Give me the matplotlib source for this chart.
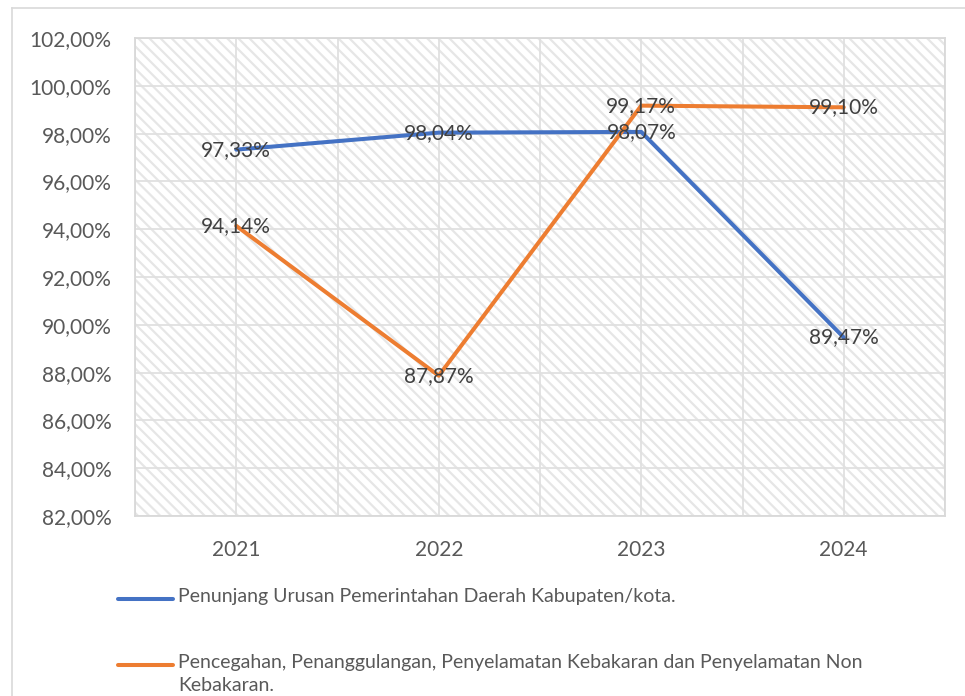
import matplotlib
matplotlib.use("Agg")
import matplotlib.pyplot as plt
from matplotlib.lines import Line2D
from matplotlib.patches import Rectangle
from matplotlib.ticker import FuncFormatter, MultipleLocator

plt.rcParams['font.family'] = ['Lato', 'DejaVu Sans']
plt.rcParams['hatch.color'] = '#e6e6e6'
plt.rcParams['hatch.linewidth'] = 1.6

years = ['2021', '2022', '2023', '2024']
penunjang = [97.33, 98.04, 98.07, 89.47]
pencegahan = [94.14, 87.87, 99.17, 99.10]
series_names = [
    'Penunjang Urusan Pemerintahan Daerah Kabupaten/kota.',
    'Pencegahan, Penanggulangan, Penyelamatan Kebakaran dan Penyelamatan Non\nKebakaran.',
]
colors = ['#4472C4', '#ED7D31']

W, H = 965, 696
fig = plt.figure(figsize=(W / 100, H / 100), dpi=100)
ax = fig.add_axes([135 / W, 1 - 516 / H, (945 - 135) / W, (516 - 38) / H])

x = list(range(len(years)))
ax.set_xlim(-0.5, len(years) - 0.5)
ax.set_ylim(82, 102)

# hatched background
ax.add_patch(Rectangle((0, 0), 1, 1, transform=ax.transAxes, facecolor='white',
                       hatch='\\\\\\', edgecolor='#e6e6e6', linewidth=0, zorder=0))

ax.yaxis.set_major_locator(MultipleLocator(2))
ax.yaxis.set_major_formatter(FuncFormatter(lambda v, p: f"{v:.2f}".replace('.', ',') + '%'))
ax.set_xticks(x)
ax.set_xticklabels(years)
ax.set_xticks([i - 0.5 for i in range(len(years) + 1)], minor=True)
ax.grid(True, which='major', axis='both', color='#e0e0e0', linewidth=1.3, zorder=1)
ax.grid(True, which='minor', axis='x', color='#e0e0e0', linewidth=1.3, zorder=1)
ax.set_axisbelow(True)
ax.tick_params(axis='both', which='both', length=0, labelsize=15, colors='#595959')
ax.tick_params(axis='x', pad=17)
ax.tick_params(axis='y', pad=17)
for s in ax.spines.values():
    s.set_color('#d9d9d9')
    s.set_linewidth(1.3)

for vals, c in zip([penunjang, pencegahan], colors):
    ax.plot(x, vals, color=c, linewidth=2.9, zorder=3, solid_capstyle='round')
for vals in [penunjang, pencegahan]:
    for xi, v in zip(x, vals):
        ax.text(xi, v, f"{v:.2f}".replace('.', ',') + '%', ha='center', va='center',
                fontsize=15, color='#404040', zorder=4)

# legend (manual, stacked)
leg_y = [599, 665]
for name, c, yy in zip(series_names, colors, leg_y):
    fig.add_artist(Line2D([118 / W, 173 / W], [1 - yy / H, 1 - yy / H], color=c,
                          linewidth=2.9, solid_capstyle='round'))
    fig.text(178 / W, 1 - (yy - 11) / H, name, ha='left', va='top', fontsize=14,
             color='#595959', linespacing=1.4)

# outer chart border (left & top visible)
fig.add_artist(Line2D([11.5 / W, 11.5 / W], [1 - 8 / H, 0], color='#d9d9d9', linewidth=1.2))
fig.add_artist(Line2D([11.5 / W, 1], [1 - 8 / H, 1 - 8 / H], color='#d9d9d9', linewidth=1.2))

fig.savefig('out.png', dpi=100)
